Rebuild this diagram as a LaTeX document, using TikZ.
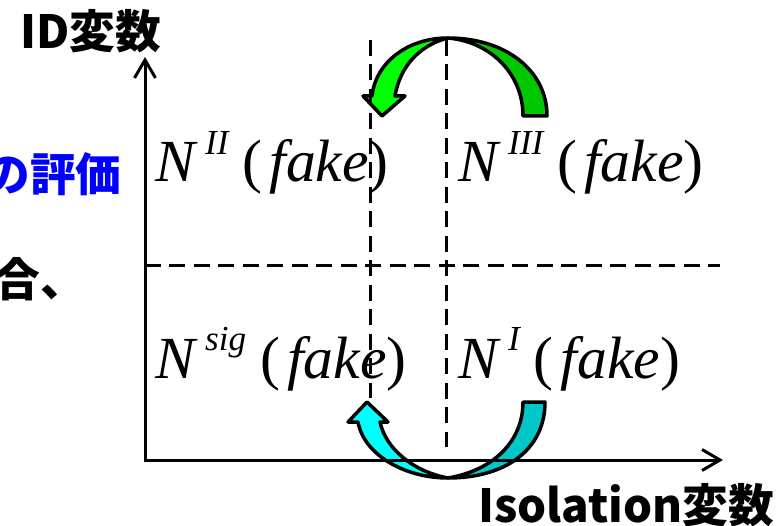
\documentclass[tikz,border=0pt]{standalone}
\usepackage{fontspec}
\setmainfont{Liberation Serif}
\newfontfamily\jpfont{Noto Sans CJK JP}
\usetikzlibrary{arrows.meta}
\definecolor{grnlight}{RGB}{0,255,0}
\definecolor{grndark}{RGB}{0,200,0}
\definecolor{cyanlight}{RGB}{0,255,255}
\definecolor{cyandark}{RGB}{0,200,200}
\definecolor{txtblue}{RGB}{0,0,255}
\newcommand{\nfake}[1]{{\itshape N}\hspace{0.2cm}\raisebox{0.55cm}{\fontsize{20}{20}\selectfont\itshape #1}\hspace{0.28cm}(\hspace{0.14cm}{\itshape fake})}

\begin{document}
\begin{tikzpicture}[x=0.02cm,y=-0.02cm,
    axis/.style={line width=0.06cm,{Straight Barb[length=0.36cm,width=0.42cm]}-{Straight Barb[length=0.36cm,width=0.42cm]}},
    grid line/.style={line width=0.06cm,dash pattern=on 0.32cm off 0.17cm},
    bent arrow/.style={draw=black,line width=0.07cm,line join=round},
    quad label/.style={inner sep=0pt,anchor=base west,font=\fontsize{34}{40}\selectfont},
    jp label/.style={inner sep=0pt,font=\jpfont\bfseries\fontsize{26}{30}\selectfont}]
    \useasboundingbox (0,0) rectangle (783,526);
    \coordinate (o) at (145,460);
    \coordinate (ytip) at (145,57);
    \coordinate (xtip) at (723,460);
    \coordinate (hl) at (145,266);
    \coordinate (hr) at (720,266);
    \coordinate (v1t) at (370,40);
    \coordinate (v1b) at (370,398);
    \coordinate (v2t) at (446,40);
    \coordinate (v2b) at (446,447);
    % green arrow, III -> II
    \filldraw[bent arrow,fill=grndark] (547,116) .. controls (547,70) and (505,38) .. (448,38)
      .. controls (492,42) and (523,75) .. (523,116) -- cycle;
    \filldraw[bent arrow,fill=grnlight] (448,38) .. controls (405,38) and (375,65) .. (372,96)
      -- (363,96) -- (382,116) -- (405,96) -- (395,96)
      .. controls (400,66) and (420,45) .. (448,38) -- cycle;
    % cyan arrow, I -> sig
    \filldraw[bent arrow,fill=cyandark] (545,402) .. controls (545,450) and (505,478) .. (448,478)
      .. controls (495,470) and (523,440) .. (523,402) -- cycle;
    \filldraw[bent arrow,fill=cyanlight] (448,478) .. controls (405,478) and (364,455) .. (358,422)
      -- (348,422) -- (367,402) -- (388,422) -- (380,422)
      .. controls (386,450) and (415,472) .. (448,478) -- cycle;
    \draw[axis] (ytip) |- (xtip);
    \node[quad label] (nII) at (155,182) {\nfake{II}};
    \node[quad label] (nIII) at (458,182) {\nfake{III}};
    \node[quad label] (nsig) at (155,378) {\nfake{sig}};
    \node[quad label] (nI) at (458,378) {\nfake{I}};
    \draw[grid line] (hl) -- (hr);
    \draw[grid line] (v1t) -- (v1b);
    \draw[grid line] (v2t) -- (v2b);
    \node[jp label] (ylab) at (91,31) {ID変数};
    \node[jp label] (xlab) at (626,505) {Isolation変数};
    \node[jp label,text=txtblue,anchor=east] (eval) at (122,174) {の評価};
    \node[jp label] (case) at (40,279) {合、};
\end{tikzpicture}
\end{document}
